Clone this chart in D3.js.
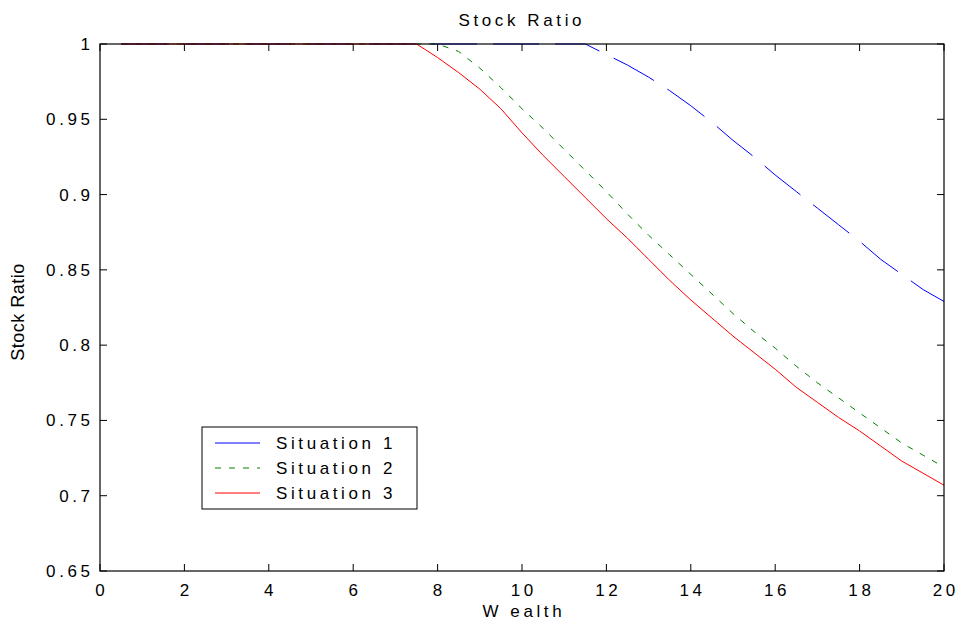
<!DOCTYPE html>
<meta charset="utf-8">
<style>
  body { margin: 0; background: #fff; }
  svg { font-family: "Liberation Sans", Arial, sans-serif; }
  .lbl { font-size: 17px; letter-spacing: 3.6px; fill: #000; }
</style>
<svg id="chart" width="960" height="630"></svg>
<script src="https://d3js.org/d3.v7.min.js"></script>
<script>
// wealth grid (x values)
var wealth = [0.5, 1, 1.5, 2, 2.5, 3, 3.5, 4, 4.5, 5, 5.5, 6, 6.5, 7, 7.5, 8, 8.5, 9, 9.5, 10,
  10.5, 11, 11.5, 12, 12.5, 13, 13.5, 14, 14.5, 15, 15.5, 16, 16.5, 17, 17.5, 18, 18.5, 19, 19.5, 20];

var situation1 = [1, 1, 1, 1, 1, 1, 1, 1, 1, 1, 1, 1, 1, 1, 1, 1, 1, 1, 1, 1,
  1, 1, 1, 0.993, 0.986, 0.978, 0.969, 0.959, 0.948, 0.936, 0.925, 0.913, 0.902, 0.891, 0.880, 0.869, 0.857, 0.847, 0.837, 0.829];
var situation2 = [1, 1, 1, 1, 1, 1, 1, 1, 1, 1, 1, 1, 1, 1, 1, 1, 0.995, 0.984, 0.971, 0.957,
  0.944, 0.930, 0.916, 0.902, 0.887, 0.873, 0.860, 0.847, 0.834, 0.821, 0.809, 0.798, 0.786, 0.775, 0.765, 0.755, 0.745, 0.735, 0.727, 0.719];
var situation3 = [1, 1, 1, 1, 1, 1, 1, 1, 1, 1, 1, 1, 1, 1, 1, 0.991, 0.981, 0.970, 0.957, 0.941,
  0.926, 0.912, 0.898, 0.884, 0.871, 0.857, 0.843, 0.830, 0.818, 0.806, 0.795, 0.784, 0.772, 0.762, 0.752, 0.743, 0.733, 0.723, 0.715, 0.707];

var names = ["Situation 1", "Situation 2", "Situation 3"];
var colors = ["#0000ff", "#008000", "#ff0000"];
var dashes = ["46,16", "6,8", null];
var xTicks = [0, 2, 4, 6, 8, 10, 12, 14, 16, 18, 20];
var yTicks = [0.65, 0.7, 0.75, 0.8, 0.85, 0.9, 0.95, 1];

var mLeft = 100, mRight = 944, mTop = 44, mBottom = 571;
var sp = 3.6; // letter spacing

var svg = d3.select("#chart");
var x = d3.scaleLinear().domain([0, 20]).range([mLeft, mRight]);
var y = d3.scaleLinear().domain([0.65, 1]).range([mBottom, mTop]);

// lines first, box on top
var series = [situation1, situation2, situation3];
var line = d3.line().x(function(d, i) { return x(wealth[i]); }).y(function(d) { return y(d); });
series.forEach(function(s, k) {
  svg.append("path").datum(s).attr("d", line)
    .style("fill", "none").style("stroke", colors[k]).style("stroke-width", 1)
    .style("stroke-dasharray", dashes[k]);
});

// axes box with inward ticks
var tl = 7;
var ax = svg.append("g");
ax.append("rect").attr("x", mLeft).attr("y", mTop).attr("width", mRight - mLeft).attr("height", mBottom - mTop)
  .style("fill", "none").style("stroke", "#000").style("stroke-width", 1.2);
xTicks.forEach(function(t) {
  ax.append("line").attr("x1", x(t)).attr("x2", x(t)).attr("y1", mBottom).attr("y2", mBottom - tl).style("stroke", "#000");
  ax.append("line").attr("x1", x(t)).attr("x2", x(t)).attr("y1", mTop).attr("y2", mTop + tl).style("stroke", "#000");
  ax.append("text").attr("class", "lbl").attr("x", x(t) + sp / 2).attr("y", 596)
    .attr("text-anchor", "middle").text(t);
});
yTicks.forEach(function(t) {
  ax.append("line").attr("y1", y(t)).attr("y2", y(t)).attr("x1", mLeft).attr("x2", mLeft + tl).style("stroke", "#000");
  ax.append("line").attr("y1", y(t)).attr("y2", y(t)).attr("x1", mRight).attr("x2", mRight - tl).style("stroke", "#000");
  ax.append("text").attr("class", "lbl").attr("x", 90 + sp).attr("y", y(t) + 6)
    .attr("text-anchor", "end").text(d3.format("~g")(t));
});

// titles
svg.append("text").attr("class", "lbl").attr("x", 520 + sp / 2).attr("y", 26)
  .attr("text-anchor", "middle").text("Stock Ratio");
svg.append("text").attr("class", "lbl").attr("x", 522 + sp / 2).attr("y", 617)
  .attr("text-anchor", "middle").text("W ealth");
svg.append("text").attr("transform", "translate(24,312) rotate(-90)")
  .attr("text-anchor", "middle").style("font-size", "18px").style("letter-spacing", "0.5px").text("Stock Ratio");

// legend
var lg = svg.append("g");
lg.append("rect").attr("x", 202).attr("y", 427).attr("width", 215).attr("height", 82)
  .style("fill", "#fff").style("stroke", "#000").style("stroke-width", 1);
names.forEach(function(n, k) {
  var ry = 443 + k * 25;
  lg.append("line").attr("x1", 215).attr("x2", 260).attr("y1", ry).attr("y2", ry)
    .style("stroke", colors[k]).style("stroke-width", 1).style("stroke-dasharray", dashes[k]);
  lg.append("text").attr("class", "lbl").attr("x", 276).attr("y", ry + 6).text(n);
});
</script>
